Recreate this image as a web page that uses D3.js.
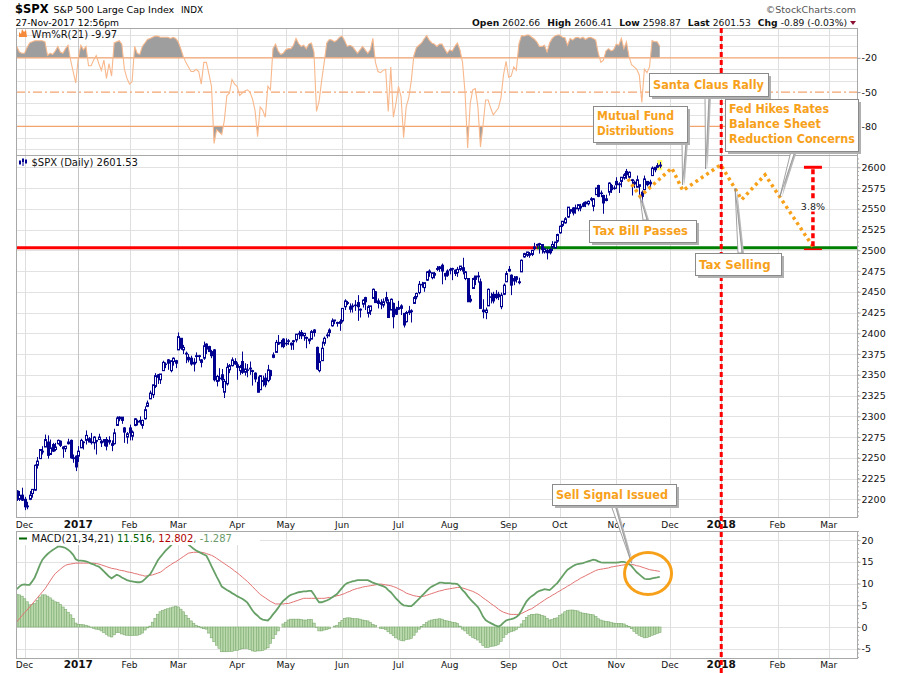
<!DOCTYPE html>
<html><head><meta charset="utf-8">
<script src="https://cdn.jsdelivr.net/npm/d3@7/dist/d3.min.js"></script>
<style>
body{margin:0;background:#fff;}
svg text{font-family:"DejaVu Sans",Verdana,sans-serif;}
</style></head><body>
<svg id="chart" width="900" height="673"></svg>
<script>
// ================= DATA =================
// daily bars, first bar = 28-Nov-2016, last bar = 27-Nov-2017
const priceOpen=[
2210,2200,2205,2200,2191,2200,2207,2211,2241,2249,
2258,2263,2269,2254,2266,2260,2267,2270,2263,2261,
2267,2271,2250,2252,2252,2262,2269,2271,2273,2269,
2268,2271,2272,2270,2269,2272,2269,2267,2267,2289,
2299,2299,2286,2275,2286,2276,2289,2294,2295,2289,
2297,2312,2321,2326,2336,2350,2344,2355,2363,2368,
2355,2366,2367,2380,2394,2380,2376,2371,2370,2363,
2372,2372,2368,2370,2387,2384,2378,2380,2342,2346,
2350,2329,2339,2356,2361,2366,2362,2355,2366,2353,
2356,2358,2355,2352,2341,2332,2343,2346,2343,2355,
2371,2377,2389,2389,2393,2388,2391,2386,2391,2392,
2400,2401,2397,2395,2393,2393,2404,2383,2355,2367,
2388,2397,2401,2409,2415,2412,2414,2415,2432,2437,
2432,2432,2434,2437,2428,2435,2443,2424,2427,2442,
2450,2439,2437,2434,2443,2437,2428,2436,2429,2431,
2430,2424,2414,2425,2427,2436,2444,2449,2459,2455,
2464,2475,2467,2472,2478,2480,2482,2469,2475,2477,
2478,2476,2473,2477,2479,2466,2466,2439,2454,2469,
2469,2462,2428,2425,2433,2444,2447,2447,2447,2432,
2447,2462,2475,2470,2463,2468,2462,2474,2492,2494,
2494,2495,2502,2506,2507,2507,2498,2500,2501,2504,
2503,2511,2521,2530,2533,2540,2547,2551,2550,2550,
2553,2556,2556,2556,2562,2553,2567,2578,2569,2566,
2562,2570,2578,2575,2583,2579,2583,2587,2595,2588,
2584,2580,2576,2577,2570,2573,2583,2580,2590,2600,
2600,2602.66];
const priceHigh=[
2211,2210,2214,2203,2197,2210,2212,2242,2251,2259,
2264,2278,2277,2272,2268,2268,2272,2271,2264,2264,
2273,2272,2254,2253,2264,2273,2270,2283,2275,2280,
2276,2271,2279,2272,2272,2275,2276,2271,2285,2300,
2300,2299,2287,2281,2290,2283,2298,2296,2300,2296,
2312,2319,2331,2338,2352,2351,2351,2367,2365,2369,
2367,2371,2368,2401,2394,2386,2378,2375,2373,2370,
2377,2374,2369,2390,2388,2385,2380,2381,2350,2358,
2357,2345,2364,2363,2371,2370,2365,2362,2378,2364,
2363,2366,2356,2353,2348,2349,2349,2352,2362,2356,
2377,2392,2398,2392,2394,2394,2393,2389,2392,2399,
2403,2404,2400,2396,2393,2404,2405,2384,2376,2390,
2396,2401,2406,2418,2416,2414,2417,2430,2441,2439,
2436,2436,2440,2446,2430,2441,2444,2434,2433,2454,
2451,2442,2441,2442,2450,2441,2442,2437,2432,2439,
2435,2424,2427,2433,2429,2445,2449,2463,2462,2461,
2475,2477,2473,2474,2481,2481,2484,2473,2477,2479,
2479,2477,2480,2481,2491,2475,2466,2446,2467,2469,
2474,2466,2441,2431,2454,2449,2450,2452,2450,2449,
2460,2475,2481,2471,2469,2469,2467,2489,2497,2498,
2498,2500,2509,2508,2509,2507,2503,2502,2503,2511,
2510,2520,2530,2535,2540,2552,2549,2552,2555,2555,
2556,2558,2559,2560,2564,2563,2575,2579,2572,2567,
2567,2582,2580,2578,2588,2582,2588,2593,2598,2595,
2586,2584,2590,2579,2572,2590,2583,2585,2601,2600,
2605,2606.41];
const priceLow=[
2198,2198,2198,2187,2188,2199,2202,2210,2237,2249,
2254,2263,2249,2254,2257,2258,2266,2263,2250,2257,
2266,2249,2244,2234,2245,2262,2260,2266,2269,2266,
2260,2254,2272,2263,2264,2259,2266,2258,2266,2289,
2294,2291,2268,2267,2271,2271,2288,2289,2290,2285,
2296,2311,2321,2322,2334,2339,2339,2355,2358,2356,
2353,2361,2358,2380,2380,2375,2364,2365,2361,2354,
2364,2367,2359,2368,2375,2378,2370,2342,2336,2342,
2334,2322,2337,2352,2360,2362,2344,2350,2351,2349,
2347,2350,2337,2341,2329,2332,2336,2335,2341,2344,
2370,2377,2386,2383,2382,2385,2386,2380,2380,2389,
2393,2393,2391,2382,2387,2393,2396,2356,2353,2367,
2385,2394,2396,2408,2411,2408,2403,2413,2428,2434,
2425,2425,2427,2415,2419,2431,2428,2419,2422,2442,
2437,2430,2429,2431,2436,2419,2428,2406,2422,2428,
2422,2407,2413,2422,2413,2436,2441,2447,2455,2450,
2463,2468,2465,2466,2475,2474,2459,2464,2468,2471,
2464,2469,2468,2475,2471,2464,2438,2437,2454,2458,
2461,2430,2418,2417,2433,2436,2436,2441,2440,2429,
2446,2462,2474,2446,2458,2461,2459,2474,2491,2492,
2491,2493,2500,2503,2496,2496,2496,2489,2495,2499,
2502,2509,2520,2528,2532,2539,2544,2542,2544,2547,
2547,2552,2552,2554,2559,2547,2567,2564,2564,2544,
2559,2566,2569,2573,2574,2569,2576,2585,2586,2585,
2566,2575,2576,2566,2557,2573,2577,2576,2590,2594,
2599,2598.87];
const priceClose=[
2202,2205,2199,2191,2192,2205,2212,2241,2246,2260,
2257,2272,2253,2262,2258,2263,2271,2265,2261,2264,
2269,2250,2249,2239,2258,2271,2269,2277,2269,2269,
2275,2270,2275,2268,2272,2264,2271,2265,2280,2298,
2297,2295,2281,2279,2280,2281,2297,2293,2293,2295,
2308,2316,2328,2338,2349,2347,2351,2365,2363,2364,
2367,2370,2364,2396,2382,2383,2375,2368,2363,2365,
2373,2373,2365,2385,2381,2378,2373,2344,2348,2346,
2344,2342,2359,2361,2368,2363,2359,2360,2353,2357,
2356,2357,2354,2345,2329,2349,2342,2338,2356,2349,
2374,2389,2387,2389,2384,2388,2391,2388,2390,2399,
2399,2397,2400,2394,2391,2402,2401,2357,2366,2382,
2394,2398,2404,2415,2416,2413,2412,2430,2439,2436,
2429,2433,2434,2432,2429,2440,2438,2432,2433,2453,
2437,2436,2435,2438,2439,2419,2441,2420,2423,2429,
2433,2410,2425,2427,2426,2443,2448,2459,2459,2461,
2474,2473,2473,2470,2477,2478,2475,2472,2470,2476,
2478,2472,2477,2481,2475,2474,2438,2441,2466,2465,
2468,2430,2426,2428,2453,2444,2439,2443,2444,2446,
2458,2472,2477,2458,2466,2465,2461,2488,2496,2498,
2496,2500,2504,2507,2508,2501,2502,2497,2497,2507,
2510,2519,2529,2535,2538,2552,2549,2545,2551,2555,
2551,2553,2558,2559,2561,2562,2575,2565,2569,2557,
2560,2581,2573,2575,2579,2580,2588,2591,2591,2594,
2585,2582,2585,2579,2565,2586,2579,2582,2599,2597,
2602,2601.53];
const wmrValues=[
-10,-15,-16,-16,-11,-7,-6,-5,-5,-5,
-5,-6,-18,-16,-17,-14,-10,-15,-16,-12,
-9,-22,-32,-42,-20,-9,-13,-10,-27,-27,
-22,-18,-25,-31,-22,-38,-25,-36,-7,-6,
-5,-8,-30,-38,-43,-41,-10,-16,-17,-10,
-7,-4,-3,-2,-1,-1,-2,-2,-2,-2,
-3,-2,-3,-6,-12,-19,-24,-28,-32,-32,
-30,-32,-43,-24,-24,-34,-45,-95,-83,-85,
-87,-75,-53,-51,-39,-43,-45,-53,-51,-49,
-48,-50,-56,-66,-89,-63,-66,-72,-45,-48,
-12,-8,-14,-17,-16,-13,-12,-12,-9,-3,
-7.5,-10,-9,-12,-8,-7,-15,-67,-58,-40,
-24,-7,-4,-4.5,-6,-4.5,-2,-1,-5,-10,
-9,-10,-13,-16,-13,-10,-13,-16,-13,-3,
-24,-32,-33,-31,-30,-67,-28,-72,-60,-45,
-54,-90,-63,-55,-40,-18,-11,-9,-7,-3.5,
-0.5,-4.5,-7,-8,-10,-8,-8,-12,-16,-13,
-14,-10,-7,-13,-24,-51,-99,-60,-48,-47,
-63,-98,-79,-57,-57,-64,-70,-67,-64,-55,
-35,-23,-37,-36,-28,-31,-8,-0.5,-1,0,
0,-2,-3.5,-6,-10,-10,-9,-15,-7,-3,
-1,0,0,-2,-2.5,-9,-3,-4.5,-2.5,-2,
-3,-2,-4,-2.5,-2,-3,-4.5,-16,-24,-22,
-14,-12,-14,-13,-8,-9,-3,-12,-6,-19,
-26,-28,-30,-35,-59,-30,-33,-28,-5,-6,
-6,-9.97];
const macdValues=[
8.7,9.3,9.7,9.8,9.7,9.7,10.5,11.4,12.8,14.3,
15.5,16.2,16.8,17.3,17.7,18.1,18.5,18.5,18.4,18.2,
17.8,17.3,16.6,15.6,15.3,15.3,15.2,15.1,14.9,14.6,
14.4,14.1,13.9,13.4,12.8,12.2,11.6,11.2,11.6,12.0,
11.8,11.4,11.1,10.8,10.6,10.5,10.4,10.3,10.3,10.5,
11.0,11.6,12.1,13.1,14.2,15.3,16.1,16.8,17.5,18.1,
18.7,19.3,19.8,20.0,19.9,19.7,19.3,19.0,18.5,18.0,
17.6,17.3,17.0,16.7,16.4,15.3,14.0,12.8,11.6,10.5,
9.3,8.9,8.5,8.2,7.8,7.5,7.1,6.8,6.5,6.1,
5.6,4.7,3.8,3.1,2.6,2.0,1.7,1.6,1.5,2.1,
2.9,3.6,4.4,5.3,6.0,6.5,7.0,7.4,7.6,7.8,
8.0,8.1,8.2,8.2,8.3,8.3,7.5,6.5,5.7,5.7,
5.9,6.1,6.4,6.8,7.2,7.6,8.3,9.0,9.7,10.1,
10.3,10.5,10.6,10.8,10.8,10.8,10.8,10.8,10.5,10.2,
10.0,9.8,9.6,9.4,9.1,8.5,8.0,7.3,6.6,6.0,
5.4,5.0,4.9,4.8,4.8,5.3,5.9,6.5,7.1,7.7,
8.3,8.9,9.3,9.6,9.9,10.2,10.2,10.1,10.1,10.1,
10.0,10.0,9.9,9.3,8.5,7.9,7.1,6.4,5.8,5.2,
4.6,3.6,2.4,1.6,1.2,0.9,0.6,0.3,0.1,0.4,
1.0,1.5,1.7,1.8,2.0,2.3,2.8,3.8,4.9,5.9,
6.6,7.1,7.5,8.0,8.3,8.5,8.7,8.6,8.5,9.0,
9.6,10.1,10.9,11.7,12.5,13.2,13.6,14.0,14.3,14.5,
14.6,14.7,14.9,15.1,15.3,15.5,15.4,15.1,14.9,14.8,
14.8,14.8,14.8,14.8,14.8,14.9,15.0,15.0,14.8,14.5,
14.0,13.3,12.6,12.1,11.6,11.1,11.0,11.0,11.2,11.3,
11.4,11.516];
const signalValues=[
1.2,1.9,2.6,3.3,3.9,4.6,5.3,6.0,6.7,7.4,
8.1,8.8,9.7,10.6,11.5,12.3,12.8,13.3,13.8,14.2,
14.4,14.5,14.6,14.7,14.7,14.7,14.7,14.7,14.7,14.7,
14.7,14.6,14.5,14.3,14.1,13.9,13.7,13.5,13.4,13.3,
13.1,13.0,12.9,12.7,12.6,12.5,12.3,12.2,12.0,11.9,
11.7,11.8,11.9,12.0,12.2,12.4,12.6,13.0,13.5,13.9,
14.3,14.7,15.0,15.4,15.8,16.2,16.6,17.0,17.1,17.2,
17.2,17.2,17.2,17.1,16.9,16.7,16.5,16.2,15.8,15.4,
15.0,14.6,14.2,13.8,13.4,12.9,12.5,12.0,11.5,11.0,
10.5,9.9,9.3,8.7,8.1,7.5,7.1,6.7,6.3,5.9,
5.6,5.3,5.3,5.3,5.3,5.4,5.4,5.6,5.8,6.0,
6.2,6.4,6.6,6.6,6.6,6.6,6.6,6.6,6.6,6.6,
6.6,6.7,6.8,6.8,7.0,7.2,7.3,7.5,7.7,8.0,
8.2,8.5,8.7,8.9,9.0,9.2,9.3,9.4,9.5,9.6,
9.7,9.8,9.9,9.8,9.7,9.6,9.5,9.3,9.1,8.8,
8.5,8.2,7.8,7.6,7.4,7.2,7.1,7.0,7.0,7.1,
7.3,7.5,7.7,7.9,8.1,8.3,8.4,8.6,8.7,8.8,
8.9,9.0,9.1,9.1,9.0,8.8,8.6,8.4,8.2,7.9,
7.6,7.2,6.7,6.3,5.9,5.4,5.0,4.6,4.1,3.7,
3.4,3.2,3.0,2.9,2.9,2.9,2.9,3.1,3.4,3.7,
4.0,4.2,4.6,5.0,5.4,5.8,6.2,6.6,6.9,7.3,
7.6,8.0,8.3,8.7,9.0,9.4,9.7,10.1,10.5,10.8,
11.2,11.5,11.8,12.1,12.4,12.7,13.0,13.2,13.3,13.4,
13.5,13.6,13.8,13.9,14.0,14.1,14.2,14.3,14.4,14.4,
14.4,14.3,14.1,14.0,13.8,13.6,13.4,13.2,13.1,13.0,
12.9,12.802];
const priceTicks=[2200,2225,2250,2275,2300,2325,2350,2375,2400,2425,2450,2475,2500,2525,2550,2575,2600];
const wmrTicks=[-20,-50,-80];
const wmrGrid=[0,-10,-30,-40,-60,-70,-90,-100];
const macdTicks=[-5,0,5,10,15,20];
const marketHolidays=["2016-12-26","2017-01-02","2017-01-16","2017-02-20","2017-04-14","2017-05-29","2017-07-04","2017-09-04","2017-11-23","2017-12-25","2018-01-01"];
const supportLevel=2503;
// projected path (trading-day index, price)
const projIdx=[238.6,243.3,255.7,260,274.8,283,292.1,310.9];
const projVal=[2586,2565,2599,2572,2603,2561,2591,2504];
const dropTop=2600, dropBottom=2503, dropIdx=310.8, dropLabel="3.8%";
const header={sym:"$SPX",name:"S&P 500 Large Cap Index",exch:"INDX",stamp:"27-Nov-2017 12:56pm",
  open:"2602.66",high:"2606.41",low:"2598.87",last:"2601.53",chg:"-0.89 (-0.03%)"};
const legendTexts={wmr:"Wm%R(21) -9.97",price:"$SPX (Daily) 2601.53",macd:"MACD(21,34,21) ",macdV:"11.516",sigV:"12.802",histV:"-1.287"};

// ================= LAYOUT =================
const svg=d3.select("#chart");
const X0=16,X1=857;
const pW={t:28,b:155}, pP={t:155,b:517}, pM={t:531,b:658};
const ORANGE="#f7a11b", NAVY="#000090";

// trading calendar
const tradingDays=[];
{let d=new Date(Date.UTC(2016,10,28));
 while(d<=Date.UTC(2018,2,31)){const wd=d.getUTCDay(),s=d.toISOString().slice(0,10);
  if(wd>0&&wd<6&&!marketHolidays.includes(s))tradingDays.push(new Date(d));
  d=new Date(d.getTime()+864e5);}}
const monthTicks=[];
tradingDays.forEach((d,i)=>{if(i>0&&d.getUTCMonth()!==tradingDays[i-1].getUTCMonth())monthTicks.push(i);});
const fmtMon=d3.utcFormat("%b"), fmtYr=d3.utcFormat("%Y");
const tickLabel=i=>{const d=tradingDays[i];return d.getUTCMonth()===0?fmtYr(d):fmtMon(d);};
const isYear=i=>tradingDays[i].getUTCMonth()===0;

const x=d3.scaleLinear().domain([-0.32,328.0]).range([X0,X1]);
const yW=d3.scaleLinear().domain([-105.1,6.1]).range([pW.b,pW.t]);
const yP=d3.scaleLinear().domain([2178.7,2614.8]).range([pP.b,pP.t]);
const yM=d3.scaleLinear().domain([-7.14,22.1]).range([pM.b,pM.t]);

const defs=svg.append("defs");
function clip(id,x0,y0,w,h){defs.append("clipPath").attr("id",id).append("rect").attr("x",x0).attr("y",y0).attr("width",w).attr("height",h);}
clip("cW",X0,pW.t,X1-X0,pW.b-pW.t);
clip("cP",X0,pP.t,X1-X0,pP.b-pP.t);
clip("cM",X0,pM.t,X1-X0,pM.b-pM.t);
clip("cWtop",X0,pW.t,X1-X0,yW(-20)-pW.t);
clip("cWbot",X0,yW(-80),X1-X0,pW.b-yW(-80));

// ---------- grids ----------
function panelGrid(p,ys,hvals){
  const g=svg.append("g");
  g.selectAll(".h").data(hvals).join("line").attr("x1",X0).attr("x2",X1)
   .attr("y1",d=>Math.round(ys(d))+0.5).attr("y2",d=>Math.round(ys(d))+0.5).attr("stroke","#e2e2e2");
  g.selectAll(".v").data(monthTicks).join("line")
   .attr("x1",d=>Math.round(x(d))+0.5).attr("x2",d=>Math.round(x(d))+0.5)
   .attr("y1",p.t).attr("y2",p.b).attr("stroke",d=>isYear(d)?"#c4c4c4":"#dedede");
}
panelGrid(pW,yW,wmrGrid);
panelGrid(pP,yP,priceTicks);
panelGrid(pM,yM,macdTicks);

// ---------- Williams %R ----------
const gW=svg.append("g").attr("clip-path","url(#cW)");
gW.append("path").datum(wmrValues).attr("clip-path","url(#cWtop)")
  .attr("d",d3.area().x((d,i)=>x(i)).y0(yW(-20)).y1(d=>yW(d))).attr("fill","#9e9e9e");
gW.append("path").datum(wmrValues).attr("clip-path","url(#cWbot)")
  .attr("d",d3.area().x((d,i)=>x(i)).y0(yW(-80)).y1(d=>yW(d))).attr("fill","#9e9e9e");
[-20,-80].forEach(v=>gW.append("line").attr("x1",X0).attr("x2",X1).attr("y1",yW(v)).attr("y2",yW(v)).attr("stroke","#f2a470").attr("stroke-width",1.3));
gW.append("line").attr("x1",X0).attr("x2",X1).attr("y1",yW(-50)).attr("y2",yW(-50)).attr("stroke","#f2a470").attr("stroke-width",1.2).attr("stroke-dasharray","9,3,2,3");
gW.append("path").datum(wmrValues).attr("d",d3.line().x((d,i)=>x(i)).y(d=>yW(d)))
  .attr("fill","none").attr("stroke","#f8b88c").attr("stroke-width",1.1);

// ---------- price ----------
const gP=svg.append("g").attr("clip-path","url(#cP)");
const last=priceClose.length-1;
gP.append("rect").attr("x",x(last)-2.5).attr("y",yP(priceHigh[last])-2).attr("width",5).attr("height",yP(priceLow[last])-yP(priceHigh[last])+4).attr("fill","#ffff70");
// support line: red before the breakout, green after
gP.append("line").attr("x1",X0).attr("x2",x(205)).attr("y1",yP(supportLevel)).attr("y2",yP(supportLevel)).attr("stroke","#ff0000").attr("stroke-width",3);
gP.append("line").attr("x1",x(203)).attr("x2",X1).attr("y1",yP(supportLevel)).attr("y2",yP(supportLevel)).attr("stroke","#008000").attr("stroke-width",3);
priceClose.forEach((c,i)=>{
  const o=priceOpen[i],xi=Math.round(x(i))+0.5;
  gP.append("line").attr("x1",xi).attr("x2",xi).attr("y1",yP(priceHigh[i])).attr("y2",yP(priceLow[i])).attr("stroke",NAVY).attr("stroke-width",1);
  const y0=yP(Math.max(o,c)),y1=yP(Math.min(o,c));
  gP.append("rect").attr("x",xi-1).attr("y",y0).attr("width",2).attr("height",Math.max(0.6,y1-y0))
    .attr("fill",c>=o?"#fff":NAVY).attr("stroke",NAVY).attr("stroke-width",1);
});
// projection path
gP.append("path").datum(projIdx.map((d,i)=>[d,projVal[i]]))
  .attr("d",d3.line().x(d=>x(d[0])).y(d=>yP(d[1])))
  .attr("fill","none").attr("stroke",ORANGE).attr("stroke-width",3.5).attr("stroke-dasharray","3,3.5");
// drop measure
const dx=x(dropIdx);
gP.append("line").attr("x1",dx).attr("x2",dx).attr("y1",yP(dropTop)+2).attr("y2",yP(dropBottom)).attr("stroke","#ff0000").attr("stroke-width",3.5).attr("stroke-dasharray","5,3");
gP.append("line").attr("x1",dx-9).attr("x2",dx+9).attr("y1",yP(dropTop)).attr("y2",yP(dropTop)).attr("stroke","#ff0000").attr("stroke-width",3);
gP.append("line").attr("x1",dx-9).attr("x2",dx+9).attr("y1",yP(dropBottom)+1.5).attr("y2",yP(dropBottom)+1.5).attr("stroke","#ff0000").attr("stroke-width",1.5);
const midY=yP((dropTop+dropBottom)/2)+2;
gP.append("rect").attr("x",dx-12).attr("y",midY-9).attr("width",24).attr("height",11).attr("fill","#fff");
gP.append("text").attr("x",dx).attr("y",midY).attr("text-anchor","middle").attr("font-size",9.5).attr("fill","#222").text(dropLabel);

// ---------- MACD ----------
const gM=svg.append("g").attr("clip-path","url(#cM)");
const bw=x(1)-x(0);
macdValues.forEach((m,i)=>{
  const h=m-signalValues[i];
  gM.append("rect").attr("x",x(i)-bw/2).attr("width",bw)
    .attr("y",yM(Math.max(0,h))).attr("height",Math.abs(yM(h)-yM(0)))
    .attr("fill","#b9d8ac").attr("stroke","#7fac72").attr("stroke-width",0.6);
});
gM.append("path").datum(signalValues).attr("d",d3.line().x((d,i)=>x(i)).y(d=>yM(d)))
  .attr("fill","none").attr("stroke","#e37272").attr("stroke-width",1);
gM.append("path").datum(macdValues).attr("d",d3.line().x((d,i)=>x(i)).y(d=>yM(d)))
  .attr("fill","none").attr("stroke","#66a066").attr("stroke-width",1.8);

// ---------- panel frames ----------
[pW,pP,pM].forEach(p=>svg.append("rect").attr("x",X0+0.5).attr("y",p.t+0.5).attr("width",X1-X0).attr("height",p.b-p.t).attr("fill","none").attr("stroke","#a8a8a8"));

// ---------- right axes ----------
function rightAxis(ys,vals,fmt,minorStep){
  const g=svg.append("g").attr("transform",`translate(${X1+0.5},0)`)
    .call(d3.axisRight(ys).tickValues(vals).tickSize(3).tickPadding(1).tickFormat(fmt));
  g.select(".domain").remove();
  g.selectAll(".tick line").attr("stroke","#999");
  g.selectAll("text").attr("font-size",9.5).attr("fill","#111").attr("font-family","DejaVu Sans");
  if(minorStep){
    const [a,b]=ys.domain();const ticks=d3.range(Math.ceil(a/minorStep)*minorStep,b,minorStep);
    g.selectAll(".mn").data(ticks).join("line").attr("x1",0).attr("x2",1.5)
      .attr("y1",d=>ys(d)).attr("y2",d=>ys(d)).attr("stroke","#aaa");
  }
}
rightAxis(yW,wmrTicks,d=>d);
rightAxis(yP,priceTicks,d=>d,5);
rightAxis(yM,macdTicks,d=>d,1);

// ---------- x axes ----------
function xAxis(yBase){
  const g=svg.append("g");
  g.selectAll("text").data(monthTicks.filter(i=>x(i)<X1-5)).join("text")
   .attr("x",d=>x(d)).attr("y",yBase).attr("text-anchor","middle")
   .attr("font-size",d=>isYear(d)?10.5:9).attr("font-weight",d=>isYear(d)?"bold":"normal")
   .attr("fill","#111").text(tickLabel);
}
xAxis(527.5);
xAxis(667.5);

// ---------- Jan-2018 red dashed divider ----------
const jan18=tradingDays.findIndex(d=>d.getUTCFullYear()===2018);
svg.append("line").attr("x1",x(jan18)).attr("x2",x(jan18)).attr("y1",28).attr("y2",673)
  .attr("stroke","#ff0000").attr("stroke-width",3).attr("stroke-dasharray","5,3");

// ---------- header ----------
svg.append("text").attr("x",15).attr("y",13).attr("font-size",11.5).attr("font-weight","bold").text(header.sym);
svg.append("text").attr("x",53.5).attr("y",13).attr("font-size",9.5).text(header.name);
svg.append("text").attr("x",181).attr("y",13).attr("font-size",8.8).text(header.exch);
svg.append("text").attr("x",15.5).attr("y",26).attr("font-size",9.2).text(header.stamp);
svg.append("text").attr("x",856).attr("y",12.5).attr("text-anchor","end").attr("font-size",9.5).attr("fill","#555").text("\u00A9StockCharts.com");
{const t=svg.append("text").attr("x",847).attr("y",26).attr("text-anchor","end").attr("font-size",9.2).attr("fill","#111");
 [["Open",header.open],["High",header.high],["Low",header.low],["Last",header.last],["Chg",header.chg]].forEach((p,k)=>{
   t.append("tspan").attr("font-weight","bold").attr("dx",k?7:0).text(p[0]);
   t.append("tspan").attr("dx",3).text(p[1]);});
 svg.append("path").attr("d","M850,21L856,21L853,25Z").attr("fill","#8b1030");}

// ---------- panel legends ----------
svg.append("path").attr("d","M19,37L19,32L21,34L22,29L24,32L26,30L27,37Z").attr("fill","#f58a3a");
svg.append("text").attr("x",31.5).attr("y",38).attr("font-size",10).attr("fill","#111").text(legendTexts.wmr);
[[20,160,165],[23,158,166],[26,159,164]].forEach(c=>{svg.append("line").attr("x1",c[0]).attr("x2",c[0]).attr("y1",c[1]).attr("y2",c[2]).attr("stroke",NAVY).attr("stroke-width",1);
  svg.append("rect").attr("x",c[0]-1).attr("y",c[1]+1).attr("width",2).attr("height",3).attr("fill",NAVY);});
svg.append("text").attr("x",31.5).attr("y",166).attr("font-size",10).attr("fill","#111").text(legendTexts.price);
svg.append("rect").attr("x",17).attr("y",532).attr("width",243).attr("height",13).attr("fill","#fff");
svg.append("line").attr("x1",19).attr("x2",27).attr("y1",538.5).attr("y2",538.5).attr("stroke","#006400").attr("stroke-width",2);
{const t=svg.append("text").attr("x",31.5).attr("y",542).attr("font-size",10);
 t.append("tspan").attr("fill","#111").text(legendTexts.macd);
 t.append("tspan").attr("fill","#006400").text(legendTexts.macdV);
 t.append("tspan").attr("fill","#b00000").text(", "+legendTexts.sigV);
 t.append("tspan").attr("fill","#6a9a6a").text(", "+legendTexts.histV);}

// ---------- callouts ----------
function callout(c){
  const tx=x(c.tip[0]), ty=c.ys(c.tip[1]);
  const by0=c.side==="bottom"?c.by+c.bh:c.by;
  const g=svg.append("g");
  g.append("path").attr("d",`M${c.px-2},${by0}L${tx+2},${ty+1}L${c.px+4},${by0}Z`).attr("fill","#b8b8b8");
  g.append("path").attr("d",`M${c.px-2},${by0}L${tx},${ty}L${c.px+2},${by0}Z`).attr("fill","#fff").attr("stroke","#8a8a8a").attr("stroke-width",0.8);
  g.append("rect").attr("x",c.bx+3).attr("y",c.by+3).attr("width",c.bw).attr("height",c.bh).attr("fill","#b0b0b0");
  g.append("rect").attr("x",c.bx+0.5).attr("y",c.by+0.5).attr("width",c.bw).attr("height",c.bh).attr("fill","#fff").attr("stroke","#8a8a8a");
  c.lines.forEach((l,k)=>g.append("text").attr("x",c.bx+4).attr("y",c.by+c.base0+k*15)
    .attr("font-family","'Liberation Sans Narrow','Liberation Sans',Arial,sans-serif").attr("font-weight","bold")
    .attr("font-size",13).attr("fill",ORANGE).attr("textLength",c.widths[k]).attr("lengthAdjust","spacingAndGlyphs").text(l));
}
callout({bx:593,by:106,bw:94,bh:36,lines:["Mutual Fund","Distributions"],widths:[77,77],base0:14,side:"bottom",px:684,tip:[259.9,2578.7],ys:yP});
callout({bx:649,by:73,bw:119,bh:23,lines:["Santa Claus Rally"],widths:[111],base0:16,side:"bottom",px:707,tip:[268.9,2598],ys:yP});
callout({bx:725,by:99,bw:133,bh:52,lines:["Fed Hikes Rates","Balance Sheet","Reduction Concerns"],widths:[100,92,126],base0:14,side:"bottom",px:793,tip:[297.9,2564.6],ys:yP});
callout({bx:589,by:220,bw:107,bh:22,lines:["Tax Bill Passes"],widths:[95],base0:15,side:"top",px:645,tip:[243.3,2564.6],ys:yP});
callout({bx:695,by:253,bw:86,bh:22,lines:["Tax Selling"],widths:[71.6],base0:16,side:"top",px:740,tip:[280.4,2575],ys:yP});
callout({bx:552,by:484,bw:124,bh:21,lines:["Sell Signal Issued"],widths:[112],base0:15,side:"bottom",px:613,tip:[240.0,14.7],ys:yM});
// orange circle around the MACD cross
svg.append("ellipse").attr("cx",x(251.5)-13).attr("cy",yM(12.3)).attr("rx",23.5).attr("ry",21).attr("fill","none").attr("stroke",ORANGE).attr("stroke-width",3);
</script></body></html>
